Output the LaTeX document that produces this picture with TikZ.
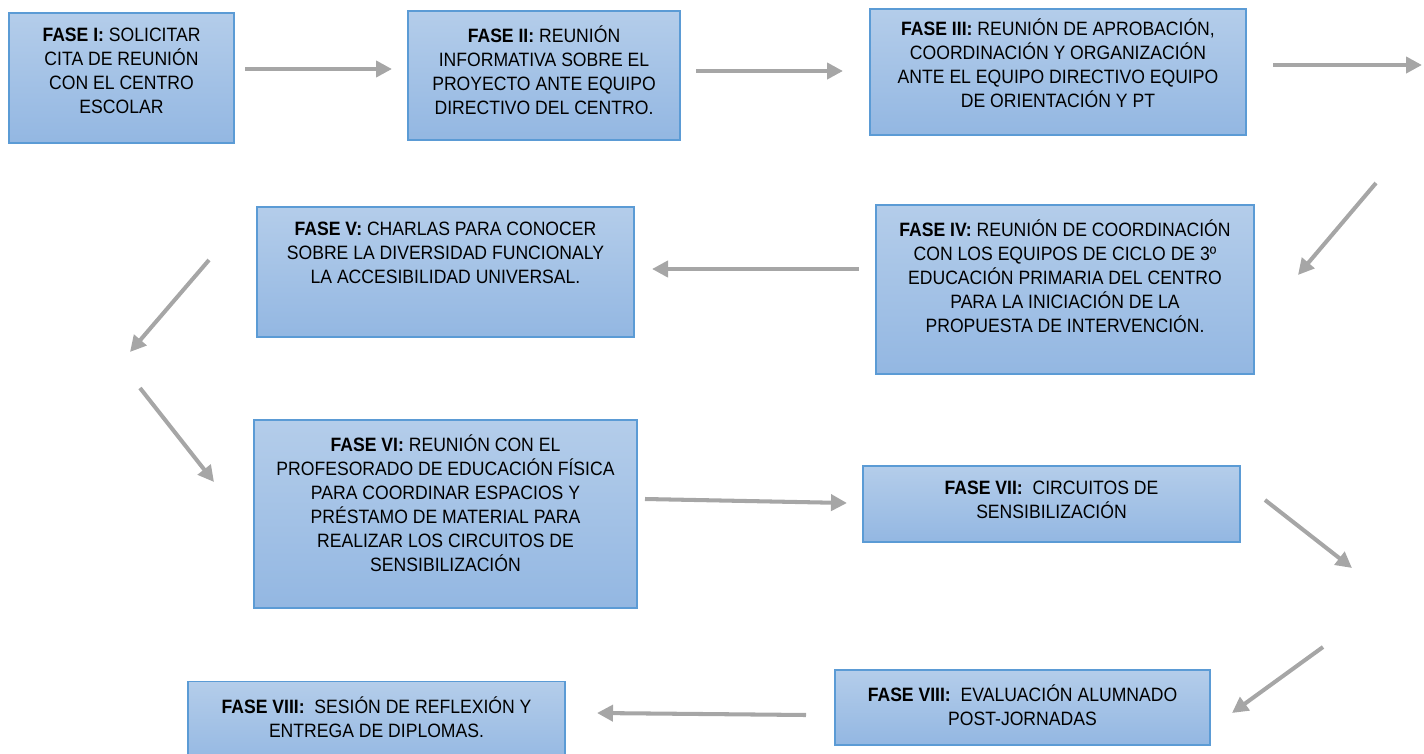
\documentclass[tikz,border=0pt]{standalone}
\usepackage{fontspec}
\setmainfont{Liberation Sans}[FakeStretch=0.91]
\usepackage{tikz}
\usetikzlibrary{positioning, arrows.meta, shadings}

\definecolor{faseborde}{HTML}{5B9BD5}
\definecolor{fasearriba}{HTML}{B4CDEA}
\definecolor{faseabajo}{HTML}{93B7E2}
\definecolor{flecha}{HTML}{A6A6A6}

\begin{document}
\begin{tikzpicture}[x=0.02cm, y=-0.02cm,
    >={Triangle[length=0.32cm, width=0.32cm]},
    fase/.style={draw=faseborde, line width=0.7pt, rectangle, top color=fasearriba, bottom color=faseabajo, inner sep=0pt},
    fasetexto/.style={anchor=north, yshift=-0.3cm, align=center, inner sep=0pt, font=\fontsize{11}{13.7}\selectfont},
    paso/.style={draw=flecha, line width=2.3pt, ->}]

    \useasboundingbox (0,0) rectangle (1424,754);

    % Cajas de las fases
    \node[fase, minimum width=4.5cm, minimum height=2.6cm,
        label={[fasetexto]north:{\textbf{FASE I:} SOLICITAR\\CITA DE REUNIÓN\\CON EL CENTRO\\ESCOLAR}}] (F1) at (121.5,78) {};
    \node[fase, minimum width=5.44cm, minimum height=2.58cm,
        label={[fasetexto]north:{\textbf{FASE II:} REUNIÓN\\INFORMATIVA SOBRE EL\\PROYECTO ANTE EQUIPO\\DIRECTIVO DEL CENTRO.}}] (F2) at (544,75.5) {};
    \node[fase, minimum width=7.52cm, minimum height=2.52cm,
        label={[fasetexto, yshift=0.1cm]north:{\textbf{FASE III:} REUNIÓN DE APROBACIÓN,\\COORDINACIÓN Y ORGANIZACIÓN\\ANTE EL EQUIPO DIRECTIVO EQUIPO\\DE ORIENTACIÓN Y PT}}] (F3) at (1058,72) {};
    \node[fase, minimum width=7.56cm, minimum height=3.38cm,
        label={[fasetexto]north:{\textbf{FASE IV:} REUNIÓN DE COORDINACIÓN\\CON LOS EQUIPOS DE CICLO DE 3º\\EDUCACIÓN PRIMARIA DEL CENTRO\\PARA LA INICIACIÓN DE LA\\PROPUESTA DE INTERVENCIÓN.}}] (F4) at (1065,289.5) {};
    \node[fase, minimum width=7.54cm, minimum height=2.6cm,
        label={[fasetexto]north:{\textbf{FASE V:} CHARLAS PARA CONOCER\\SOBRE LA DIVERSIDAD FUNCIONALY\\LA ACCESIBILIDAD UNIVERSAL.}}] (F5) at (445.5,272) {};
    \node[fase, minimum width=7.66cm, minimum height=3.76cm,
        label={[fasetexto]north:{\textbf{FASE VI:} REUNIÓN CON EL\\PROFESORADO DE EDUCACIÓN FÍSICA\\PARA COORDINAR ESPACIOS Y\\PRÉSTAMO DE MATERIAL PARA\\REALIZAR LOS CIRCUITOS DE\\SENSIBILIZACIÓN}}] (F6) at (445.5,514) {};
    \node[fase, minimum width=7.54cm, minimum height=1.52cm,
        label={[fasetexto]north:{\textbf{FASE VII:}\ \ CIRCUITOS DE\\SENSIBILIZACIÓN}}] (F7) at (1051.5,504) {};
    \node[fase, minimum width=7.5cm, minimum height=1.5cm,
        label={[fasetexto]north:{\textbf{FASE VIII:}\ \ EVALUACIÓN ALUMNADO\\POST-JORNADAS}}] (F8) at (1022.5,707.5) {};
    \node[fase, minimum width=7.54cm, minimum height=1.7cm,
        label={[fasetexto]north:{\textbf{FASE VIII:}\ \ SESIÓN DE REFLEXIÓN Y\\ENTREGA DE DIPLOMAS.}}] (F9) at (376.5,724) {};

    % Extremos de las flechas
    \coordinate (p1a) at (245,69);   \coordinate (p1b) at (392,69);
    \coordinate (p2a) at (696,71);   \coordinate (p2b) at (843,71);
    \coordinate (p3a) at (1273,65);  \coordinate (p3b) at (1422,65);
    \coordinate (p4a) at (1376,183); \coordinate (p4b) at (1298,275);
    \coordinate (p5a) at (859,269);  \coordinate (p5b) at (652,269);
    \coordinate (p6a) at (209,260);  \coordinate (p6b) at (130,352);
    \coordinate (p7a) at (140,388);  \coordinate (p7b) at (214,482);
    \coordinate (p8a) at (645,499);  \coordinate (p8b) at (847,503);
    \coordinate (p9a) at (1265,500); \coordinate (p9b) at (1352,568);
    \coordinate (p10a) at (1323,647); \coordinate (p10b) at (1232,713);
    \coordinate (p11a) at (806,715); \coordinate (p11b) at (597,713);

    % Flechas
    \foreach \i in {1,...,11}
        \draw[paso] (p\i a) -- (p\i b);

\end{tikzpicture}
\end{document}
